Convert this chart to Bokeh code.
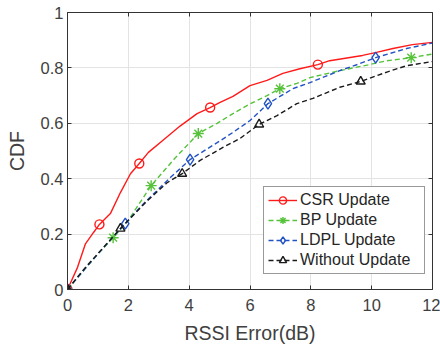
import numpy as np
from bokeh.plotting import figure
from bokeh.models import (LinearAxis, FixedTicker, Range1d, Legend, LegendItem,
                          CustomLabelingPolicy)
from bokeh.embed import file_html
from bokeh.resources import INLINE

# CDF of RSSI error (dB) for each update scheme
csr_x = [0, 0.33, 0.59, 0.85, 1.05, 1.41, 1.74, 2.07, 2.36, 2.66, 3.15, 3.7, 4.26,
         4.69, 5.0, 5.44, 6.0, 6.56, 7.08, 7.64, 8.23, 8.62, 9.7, 10.16, 10.7, 11.34, 12]
csr_y = [0, 0.08, 0.165, 0.205, 0.235, 0.274, 0.35, 0.418, 0.455, 0.495, 0.54, 0.59, 0.635,
         0.657, 0.675, 0.697, 0.736, 0.755, 0.78, 0.797, 0.812, 0.826, 0.845, 0.856, 0.87, 0.884, 0.892]
csr_marks = [0, 4, 8, 13, 20]

bp_x = [0, 0.5, 1.0, 1.5, 2.0, 2.75, 3.5, 4.3, 4.92, 5.44, 6.0, 6.56, 6.98, 7.54,
        7.97, 8.95, 9.93, 10.5, 11.3, 12]
bp_y = [0, 0.065, 0.128, 0.187, 0.25, 0.375, 0.47, 0.563, 0.60, 0.635, 0.67, 0.70, 0.725, 0.744,
        0.765, 0.79, 0.812, 0.826, 0.837, 0.85]
bp_marks = [0, 3, 5, 7, 12, 18]

ldpl_x = [0, 0.5, 1.0, 1.5, 1.9, 2.5, 3.38, 4.03, 4.92, 5.44, 6.0, 6.59, 7.41, 7.97,
          8.95, 9.6, 10.13, 11.15, 12]
ldpl_y = [0, 0.065, 0.128, 0.19, 0.238, 0.31, 0.404, 0.469, 0.53, 0.567, 0.61, 0.671, 0.725, 0.747,
          0.79, 0.815, 0.837, 0.87, 0.89]
ldpl_marks = [0, 4, 7, 11, 16]

wo_x = [0, 0.5, 1.0, 1.74, 2.62, 3.28, 3.77, 4.36, 5.11, 5.67, 6.3, 6.89, 7.54, 8.07,
        8.95, 9.64, 10.5, 11.15, 12]
wo_y = [0, 0.068, 0.13, 0.22, 0.32, 0.386, 0.418, 0.466, 0.513, 0.545, 0.596, 0.628, 0.671, 0.69,
        0.73, 0.751, 0.785, 0.808, 0.823]
wo_marks = [0, 3, 6, 10, 15]

x_ticks = [0, 2, 4, 6, 8, 10, 12]
y_ticks = [0, 0.2, 0.4, 0.6, 0.8, 1.0]
y_tick_labels = ["0", "0.2", "0.4", "0.6", "0.8", "1"]

FONT = "Liberation Sans"
TXT = "#404040"
AX = "#333333"

p = figure(width=440, height=346, output_backend="svg", toolbar_location=None,
           x_range=Range1d(0, 12), y_range=Range1d(0, 1),
           min_border_left=67, min_border_right=8, min_border_top=12, min_border_bottom=57,
           frame_width=365, frame_height=277)
p.outline_line_color = None
p.background_fill_color = "white"

for ax in (p.xaxis[0], p.yaxis[0]):
    ax.major_tick_in = 4
    ax.major_tick_out = 0
    ax.minor_tick_line_color = None
    ax.axis_line_color = AX
    ax.major_tick_line_color = AX
    ax.major_label_text_font = FONT
    ax.major_label_text_font_size = "16.5px"
    ax.major_label_text_color = TXT
    ax.axis_label_text_font = FONT
    ax.axis_label_text_font_size = "19.5px"
    ax.axis_label_text_font_style = "normal"
    ax.axis_label_text_color = TXT

p.xaxis.ticker = FixedTicker(ticks=x_ticks)
p.yaxis.ticker = FixedTicker(ticks=y_ticks)
p.yaxis.major_label_overrides = {t: s for t, s in zip(y_ticks, y_tick_labels)}
p.xaxis.axis_label = "RSSI Error(dB)"
p.yaxis.axis_label = "CDF"
p.xaxis.major_label_standoff = 9
p.xaxis.axis_label_standoff = 8
p.yaxis.major_label_standoff = 4
p.yaxis.axis_label_standoff = 10

# box on: top and right axes with inward ticks and no labels
hide_labels = CustomLabelingPolicy(code="""
try { for (const i of Array.from(indices)) indices.unset(i) } catch (e) {}
return indices
""")
for loc, ticks in (("above", x_ticks), ("right", y_ticks)):
    a = LinearAxis(ticker=FixedTicker(ticks=ticks), major_tick_in=4, major_tick_out=0,
                   minor_tick_line_color=None, axis_line_color=AX, major_tick_line_color=AX,
                   major_label_overrides={t: "" for t in ticks}, major_label_policy=hide_labels,
                   major_label_standoff=0, major_label_text_font_size="8px")
    p.add_layout(a, loc)

p.xgrid.ticker = FixedTicker(ticks=x_ticks)
p.ygrid.ticker = FixedTicker(ticks=y_ticks)
p.grid.grid_line_color = "#e3e3e3"
p.grid.grid_line_width = 1

series = [
    ("CSR Update", csr_x, csr_y, csr_marks, "#ff1a1a", "solid", "circle"),
    ("BP Update", bp_x, bp_y, bp_marks, "#55c23a", "5 3", "asterisk"),
    ("LDPL Update", ldpl_x, ldpl_y, ldpl_marks, "#2152c4", "5 3", "diamond"),
    ("Without Update", wo_x, wo_y, wo_marks, "#1a1a1a", "5 3", "triangle"),
]

items = []
for name, xs, ys, marks, color, dash, marker in series:
    xs = np.array(xs)
    ys = np.array(ys)
    ln = p.line(xs, ys, line_color=color, line_width=1.4, line_dash=dash)
    sz = 11 if marker in ("diamond", "asterisk") else 9
    sc = p.scatter(xs[marks], ys[marks], marker=marker, size=sz, line_color=color,
                   fill_color=None, line_width=1.4)
    items.append(LegendItem(label=name, renderers=[ln, sc]))

legend = Legend(items=items, location=(196, 15), orientation="vertical",
                label_text_font=FONT, label_text_font_size="16px", label_text_color="#262626",
                glyph_width=29, glyph_height=18, label_height=18, label_width=120,
                label_standoff=3, spacing=2, padding=4, margin=0,
                border_line_color=AX, border_line_width=1,
                background_fill_color="white", background_fill_alpha=1)
p.add_layout(legend, "center")

open("out.html", "w").write(file_html(p, INLINE))
